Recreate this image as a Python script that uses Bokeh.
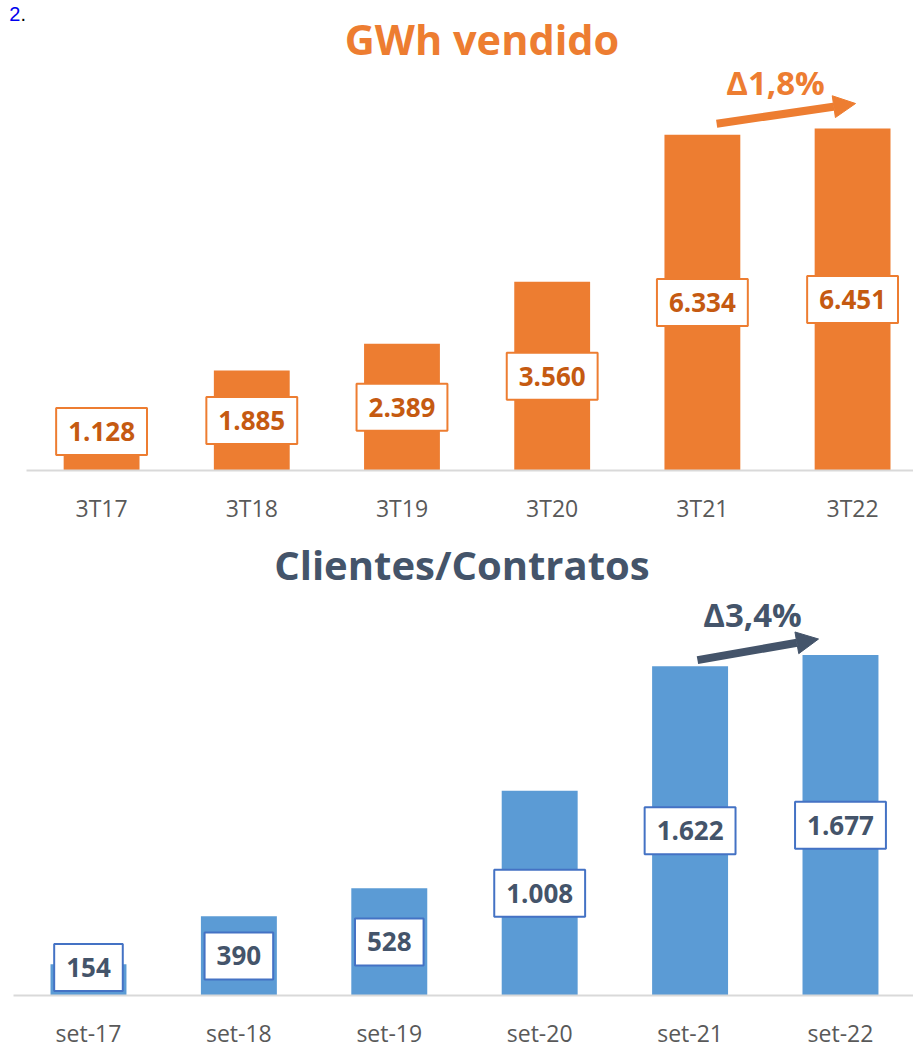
from bokeh.plotting import figure
from bokeh.layouts import column
from bokeh.models import Range1d, FixedTicker, Arrow, NormalHead, Label, ColumnDataSource
from bokeh.core.properties import value
from bokeh.embed import file_html
from bokeh.resources import INLINE

# ---------------- data ----------------
gwh_categories = ["3T17", "3T18", "3T19", "3T20", "3T21", "3T22"]
gwh_values = [1128, 1885, 2389, 3560, 6334, 6451]
gwh_labels = ["1.128", "1.885", "2.389", "3.560", "6.334", "6.451"]
gwh_title = "GWh vendido"
gwh_delta = "Δ1,8%"

cli_categories = ["set-17", "set-18", "set-19", "set-20", "set-21", "set-22"]
cli_values = [154, 390, 528, 1008, 1622, 1677]
cli_labels = ["154", "390", "528", "1.008", "1.622", "1.677"]
cli_title = "Clientes/Contratos"
cli_delta = "Δ3,4%"

FONT = "Open Sans"
ORANGE = "#ED7D31"
ORANGE_DARK = "#C55A11"
BLUE = "#5B9BD5"
BLUE_BORDER = "#4472C4"
SLATE = "#44546A"
GREY_TXT = "#595959"
AXIS = "#D9D9D9"


def make_chart(cats, vals, labels, title, delta, width, height, x_start, px_per_cat,
               frame_h, ymax, bar_color, text_color, box_color, title_color,
               title_size, title_pos, delta_pos, arrow_tail, arrow_tip,
               label_floor_px, standoff):
    x_end = x_start + width / px_per_cat
    p = figure(width=width, height=height, output_backend="svg", toolbar_location=None,
               x_range=Range1d(x_start, x_end), y_range=Range1d(0, ymax),
               min_border_left=0, min_border_right=0, min_border_top=0,
               min_border_bottom=height - frame_h)
    p.outline_line_color = None
    p.grid.visible = False
    p.yaxis.visible = False
    p.background_fill_color = "white"
    p.border_fill_color = "white"

    xs = list(range(len(cats)))
    px_per_unit = frame_h / ymax
    floor = label_floor_px / px_per_unit
    label_y = [max(v / 2.0, floor) for v in vals]
    src = ColumnDataSource(dict(x=xs, top=vals, label=labels, ly=label_y))

    p.vbar(x="x", top="top", width=0.505, bottom=0, source=src,
           fill_color=bar_color, line_color=None)

    p.text(x="x", y="ly", text="label", source=src,
           text_font=value(FONT), text_font_style="bold", text_font_size="26px",
           text_color=text_color, text_align="center", text_baseline="middle",
           background_fill_color="white", border_line_color=box_color,
           border_line_width=2,
           padding=dict(left=12, right=12, top=14, bottom=14))

    ax = p.xaxis[0]
    ax.ticker = FixedTicker(ticks=xs)
    ax.bounds = (-0.5, x_end)
    ax.major_label_overrides = {i: c for i, c in enumerate(cats)}
    ax.major_tick_line_color = None
    ax.minor_tick_line_color = None
    ax.axis_line_color = AXIS
    ax.axis_line_width = 2
    ax.major_label_text_font = FONT
    ax.major_label_text_font_size = "23px"
    ax.major_label_text_color = GREY_TXT
    ax.major_label_standoff = standoff

    # title
    p.add_layout(Label(x=title_pos[0], y=title_pos[1] / px_per_unit, text=title,
                       text_font=FONT, text_font_style="bold",
                       text_font_size=title_size, text_color=title_color,
                       text_align="center", text_baseline="alphabetic"))

    # growth arrow between the last two bars
    i0, i1 = len(vals) - 2, len(vals) - 1
    tx = i0 + arrow_tail[0]
    ty = vals[i0] + arrow_tail[1] / px_per_unit
    hx = i0 + arrow_tip[0]
    hy = vals[i1] + arrow_tip[1] / px_per_unit
    p.add_layout(Arrow(x_start=tx, y_start=ty, x_end=hx, y_end=hy,
                       line_color=title_color, line_width=8,
                       end=NormalHead(size=22, fill_color=title_color,
                                      line_color=title_color, line_width=1)))
    p.add_layout(Label(x=i0 + delta_pos[0], y=vals[i1] + delta_pos[1] / px_per_unit,
                       text=delta, text_font=FONT, text_font_style="bold",
                       text_font_size="33px", text_color=title_color,
                       text_align="center", text_baseline="alphabetic"))
    return p


# top chart: page rows 0..528, baseline at 470
top_frame_h = 470
top_scale = (470 - 128) / 6451.0
p1 = make_chart(gwh_categories, gwh_values, gwh_labels, gwh_title, gwh_delta,
                width=913, height=528, x_start=-0.673, px_per_cat=150.2,
                frame_h=top_frame_h, ymax=top_frame_h / top_scale,
                bar_color=ORANGE, text_color=ORANGE_DARK, box_color=ORANGE,
                title_color=ORANGE, title_size="41.5px",
                title_pos=(2.533, 470 - 38),
                delta_pos=(0.487, 46), arrow_tail=(0.095, 11), arrow_tip=(1.02, 25),
                label_floor_px=39, standoff=15)

# "2." fragment at top-left (cropped link text)
frag_y = (470 - 13) / top_scale
p1.add_layout(Label(x=-0.54, y=frag_y, text="2",
                    text_font="Liberation Sans", text_font_size="20px",
                    text_color="#0000EE", text_align="right", text_baseline="alphabetic"))
p1.add_layout(Label(x=-0.54, y=frag_y, text=".",
                    text_font="Liberation Sans", text_font_size="20px",
                    text_color="black", text_align="left", text_baseline="alphabetic"))

# bottom chart: page rows 528..1051, baseline at 997
bot_frame_h = 997 - 528
bot_scale = (997 - 655) / 1677.0
p2 = make_chart(cli_categories, cli_values, cli_labels, cli_title, cli_delta,
                width=913, height=1051 - 528, x_start=-0.585, px_per_cat=150.4,
                frame_h=bot_frame_h, ymax=bot_frame_h / bot_scale,
                bar_color=BLUE, text_color=SLATE, box_color=BLUE_BORDER,
                title_color=SLATE, title_size="40px",
                title_pos=(2.483, 997 - 564),
                delta_pos=(0.415, 41), arrow_tail=(0.049, 6), arrow_tip=(0.854, 16),
                label_floor_px=28, standoff=15)

layout = column(p1, p2, spacing=0)
open("out.html", "w").write(file_html(layout, INLINE))
